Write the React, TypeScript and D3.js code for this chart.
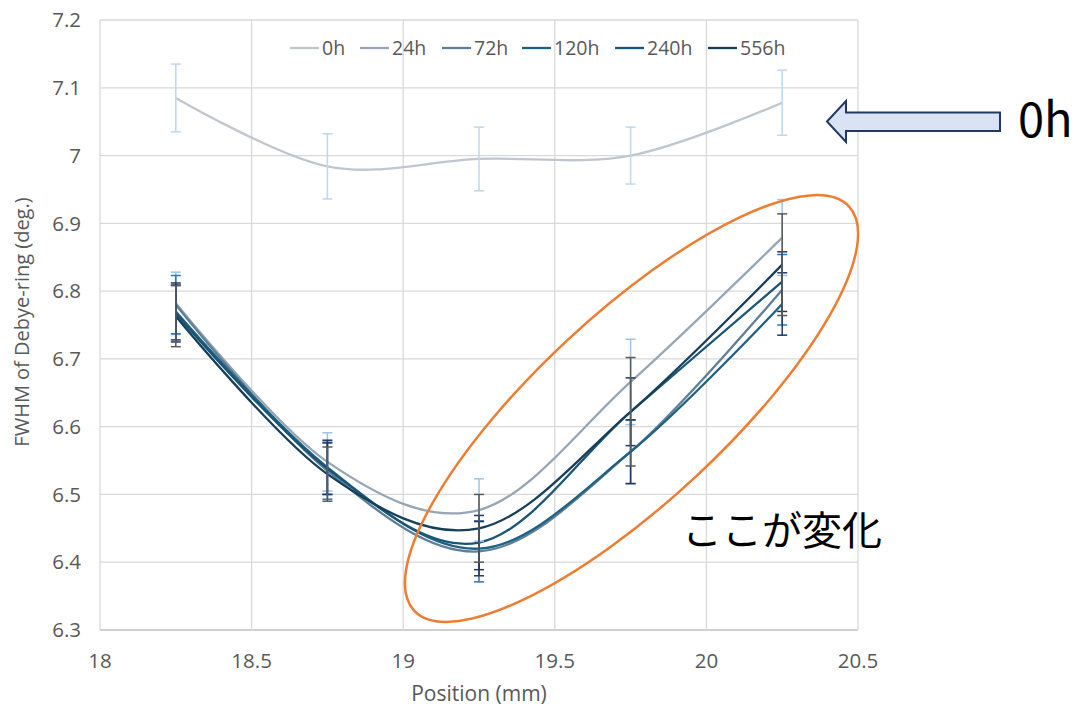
import React from 'react';
import * as d3 from 'd3';

const positions = [18.25, 18.75, 19.25, 19.75, 20.25];
const seriesNames = ['0h', '24h', '72h', '120h', '240h', '556h'];

const values0h = [7.085, 6.984, 6.995, 7.0, 7.078];
const values24h = [6.782, 6.548, 6.477, 6.666, 6.879];
const values72h = [6.78, 6.535, 6.416, 6.563, 6.802];
const values120h = [6.77, 6.54, 6.42, 6.563, 6.781];
const values240h = [6.767, 6.538, 6.429, 6.622, 6.814];
const values556h = [6.763, 6.53, 6.45, 6.622, 6.839];

const errors0h = [0.05, 0.048, 0.047, 0.042, 0.048];
const errors24h = [0.046, 0.043, 0.046, 0.063, 0.056];
const errors72h = [0.043, 0.042, 0.045, 0.047, 0.052];
const errors120h = [0.042, 0.04, 0.04, 0.047, 0.046];
const errors240h = [0.042, 0.038, 0.04, 0.05, 0.044];
const errors556h = [0.045, 0.04, 0.05, 0.08, 0.075];

const xTicks = [18, 18.5, 19, 19.5, 20, 20.5];
const yTicks = [6.3, 6.4, 6.5, 6.6, 6.7, 6.8, 6.9, 7.0, 7.1, 7.2];

const lineColors = ['#bfc6ce', '#97a5b4', '#5f7f99', '#1e6283', '#195574', '#173f5b'];
const errColors = ['#bdd7ee', '#9dc3e6', '#2e75b6', '#1f3864', '#1f3864', '#595959'];

const allValues = [values0h, values24h, values72h, values120h, values240h, values556h];
const allErrors = [errors0h, errors24h, errors72h, errors120h, errors240h, errors556h];

const FONT = "'Open Sans', 'Noto Sans', sans-serif";
const JP = "'Noto Sans CJK JP', sans-serif";

export default function App() {
  const x = d3.scaleLinear().domain([18, 20.5]).range([100, 858]);
  const y = d3.scaleLinear().domain([6.3, 7.2]).range([630, 20]);
  const line = d3
    .line<number>()
    .x((_, i) => x(positions[i]))
    .y((d) => y(d))
    .curve(d3.curveCardinal.tension(0));

  const fmt = (d: number) => String(+d.toFixed(1));

  const legendX = [290, 360, 442, 522, 615, 708];

  // arrow
  const tipX = 827, tipY = 121.5, headBack = 846, headTop = 101, headBot = 142, shaftTop = 112.5, shaftBot = 131, shaftEnd = 1000;
  const arrowPath = `M${tipX},${tipY} L${headBack},${headTop} L${headBack},${shaftTop} L${shaftEnd},${shaftTop} L${shaftEnd},${shaftBot} L${headBack},${shaftBot} L${headBack},${headBot} Z`;

  return (
    <svg width={1079} height={710} style={{ position: 'absolute', left: 0, top: 0, background: '#fff' }}>
      {/* gridlines */}
      {yTicks.map((t) => (
        <line key={'gy' + t} x1={100} x2={858} y1={y(t)} y2={y(t)} stroke={t === 6.3 ? '#bfbfbf' : '#d9d9d9'} strokeWidth={1.3} />
      ))}
      {xTicks.map((t) => (
        <line key={'gx' + t} x1={x(t)} x2={x(t)} y1={20} y2={630} stroke="#d9d9d9" strokeWidth={1.3} />
      ))}
      {/* tick labels */}
      {yTicks.map((t) => (
        <text key={'ly' + t} x={81} y={y(t)} dy="0.35em" textAnchor="end" fontFamily={FONT} fontSize={20.5} fill="#595959">
          {fmt(t)}
        </text>
      ))}
      {xTicks.map((t) => (
        <text key={'lx' + t} x={x(t)} y={661} dy="0.35em" textAnchor="middle" fontFamily={FONT} fontSize={20.5} fill="#595959">
          {fmt(t)}
        </text>
      ))}
      <text x={479} y={694} dy="0.35em" textAnchor="middle" fontFamily={FONT} fontSize={21} fill="#595959">
        Position (mm)
      </text>
      <text
        transform={`translate(22,${322}) rotate(-90)`}
        dy="0.35em"
        textAnchor="middle"
        fontFamily={FONT}
        fontSize={20}
        fill="#595959"
      >
        FWHM of Debye-ring (deg.)
      </text>

      {/* series lines */}
      {allValues.map((vals, si) => (
        <path key={'s' + si} d={line(vals) || ''} fill="none" stroke={lineColors[si]} strokeWidth={2.3} />
      ))}
      {/* error bars */}
      {allValues.map((vals, si) => (
        <g key={'e' + si} stroke={errColors[si]} strokeWidth={1.5}>
          {vals.map((v, i) => {
            const cx = x(positions[i]);
            const e = allErrors[si][i];
            return (
              <g key={i}>
                <line x1={cx} x2={cx} y1={y(v + e)} y2={y(v - e)} />
                <line x1={cx - 5} x2={cx + 5} y1={y(v + e)} y2={y(v + e)} />
                <line x1={cx - 5} x2={cx + 5} y1={y(v - e)} y2={y(v - e)} />
              </g>
            );
          })}
        </g>
      ))}

      {/* legend */}
      {seriesNames.map((n, i) => (
        <g key={'lg' + n}>
          <line x1={legendX[i]} x2={legendX[i] + 29} y1={48} y2={48} stroke={lineColors[i]} strokeWidth={2.3} />
          <text x={legendX[i] + 32} y={48} dy="0.35em" fontFamily={FONT} fontSize={19.5} fill="#595959">
            {n}
          </text>
        </g>
      ))}

      {/* orange ellipse */}
      <ellipse
        cx={631.5}
        cy={408.5}
        rx={296.8}
        ry={93.7}
        transform="rotate(-42.9 631.5 408.5)"
        fill="none"
        stroke="#ed7d31"
        strokeWidth={2.5}
      />

      {/* arrow */}
      <path d={arrowPath} fill="#dae3f3" stroke="#203864" strokeWidth={2} strokeLinejoin="miter" />
      <text x={1018} y={137} fontFamily={JP} fontSize={47} fill="#000">
        0h
      </text>

      <text x={682} y={545} fontFamily={JP} fontSize={40} fill="#000">
        ここが変化
      </text>
    </svg>
  );
}
